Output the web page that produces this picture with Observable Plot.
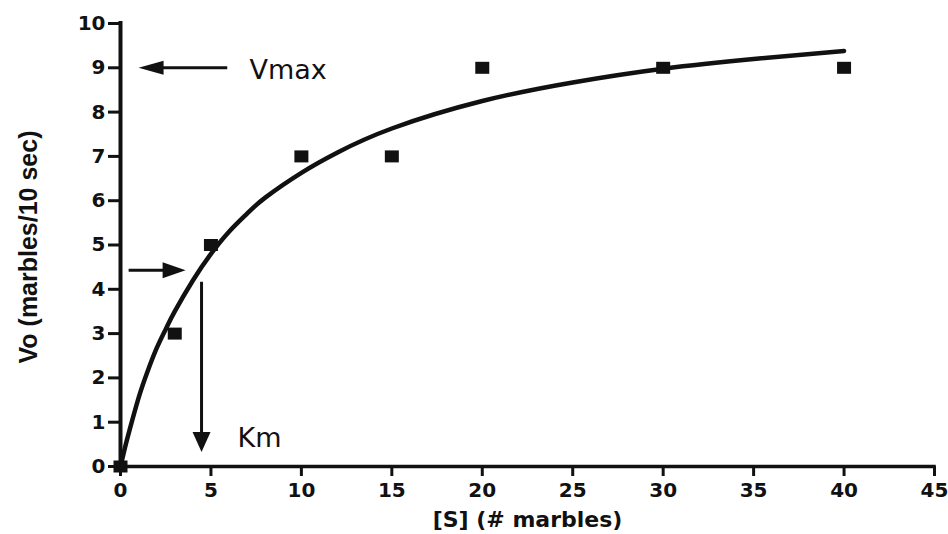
<!DOCTYPE html>
<html>
<head>
<meta charset="utf-8">
<script src="https://cdn.jsdelivr.net/npm/d3@7"></script>
<script src="https://cdn.jsdelivr.net/npm/@observablehq/plot@0.6"></script>
<style>
  html, body { margin: 0; padding: 0; background: #fff; }
</style>
</head>
<body>
<div id="chart"></div>
<script>
// ---- data ----
const substrate = [0, 3, 5, 10, 15, 20, 30, 40];           // [S] (# marbles)
const velocity  = [0, 3, 5, 7, 7, 9, 9, 9];                // Vo (marbles/10 sec)

// fitted curve
const curveS = [0, 0.25, 0.5, 1, 1.5, 2, 2.5, 3, 4, 5, 6, 7, 8, 10, 12, 15, 20, 25, 30, 35, 40];
const curveV = [0, 0.43, 0.82, 1.55, 2.15, 2.67, 3.1, 3.5, 4.2, 4.8, 5.3, 5.71, 6.07, 6.63, 7.09, 7.63, 8.25, 8.67, 8.98, 9.2, 9.38];

const xTicks = [0, 5, 10, 15, 20, 25, 30, 35, 40, 45];
const yTicks = [0, 1, 2, 3, 4, 5, 6, 7, 8, 9, 10];

// annotation arrows: tail -> tip, and head direction
const arrowTailX = [5.9, 0.45, 4.48];
const arrowTailY = [9, 4.43, 4.17];
const arrowTipX  = [1.0, 3.6, 4.48];
const arrowTipY  = [9, 4.43, 0.33];
const arrowDir   = ["left", "right", "down"];

const noteText = ["Vmax", "Km"];
const noteX = [7.13, 6.47];
const noteY = [8.94, 0.64];

const xLabel = "[S] (# marbles)";
const yLabel = "Vo (marbles/10 sec)";

// ---- build tables ----
const points = substrate.map((s, i) => ({s, v: velocity[i]}));
const curve = curveS.map((s, i) => ({s, v: curveV[i]}));

const W = 948, H = 534;
const mL = 120, mR = 14, mT = 23, mB = 68;
const pxX = (W - mL - mR) / 45;
const pxY = (H - mT - mB) / 10;

const heads = {
  left:  {len: 25, half: 7},
  right: {len: 23, half: 8},
  down:  {len: 20, half: 9}
};
const headSymbol = {
  left:  {draw(c) { const h = heads.left;  c.moveTo(0, 0); c.lineTo(h.len, -h.half); c.lineTo(h.len, h.half); c.closePath(); }},
  right: {draw(c) { const h = heads.right; c.moveTo(0, 0); c.lineTo(-h.len, -h.half); c.lineTo(-h.len, h.half); c.closePath(); }},
  down:  {draw(c) { const h = heads.down;  c.moveTo(0, 0); c.lineTo(-h.half, -h.len); c.lineTo(h.half, -h.len); c.closePath(); }}
};

const arrows = arrowDir.map((d, i) => {
  const h = heads[d].len / 2;
  let ex = arrowTipX[i], ey = arrowTipY[i];
  if (d === "left") ex += h / pxX;
  if (d === "right") ex -= h / pxX;
  if (d === "down") ey += h / pxY;
  return {x1: arrowTailX[i], y1: arrowTailY[i], x2: ex, y2: ey, tx: arrowTipX[i], ty: arrowTipY[i], d};
});

const notes = noteText.map((t, i) => ({t, x: noteX[i], y: noteY[i]}));

const markerSym = {draw(c) { c.rect(-7, -6, 14, 12); }};

const ink = "#111";

const plot = Plot.plot({
  width: W,
  height: H,
  marginLeft: mL,
  marginRight: mR,
  marginTop: mT,
  marginBottom: mB,
  style: {fontFamily: "DejaVu Sans", background: "#fff", color: ink, overflow: "visible"},
  x: {domain: [0, 45]},
  y: {domain: [0, 10]},
  marks: [
    Plot.axisX({ticks: xTicks, tickSize: 10, tickPadding: 6, fontSize: 20, fontWeight: "bold", strokeWidth: 3, stroke: ink, fill: ink, label: null}),
    Plot.axisY({ticks: yTicks, tickSize: 12, tickPadding: 3, fontSize: 20, fontWeight: "bold", strokeWidth: 3, stroke: ink, fill: ink, label: null}),
    Plot.ruleY([0], {x1: 0, x2: 45, stroke: ink, strokeWidth: 3.5, strokeLinecap: "square"}),
    Plot.ruleX([0], {y1: 0, y2: 10, stroke: ink, strokeWidth: 4, strokeLinecap: "square"}),
    Plot.line(curve, {x: "s", y: "v", curve: "natural", stroke: ink, strokeWidth: 4.5}),
    Plot.dot(points, {x: "s", y: "v", symbol: markerSym, fill: ink, stroke: "none"}),
    Plot.link(arrows, {x1: "x1", y1: "y1", x2: "x2", y2: "y2", stroke: ink, strokeWidth: 3}),
    ...arrowDir.map(d => Plot.dot(arrows.filter(a => a.d === d), {x: "tx", y: "ty", symbol: headSymbol[d], fill: ink, stroke: "none"})),
    Plot.text(notes, {x: "x", y: "y", text: "t", textAnchor: "start", lineAnchor: "middle", fontSize: 27, fill: ink}),
    Plot.text([xLabel], {frameAnchor: "bottom", textAnchor: "middle", dy: 53, lineAnchor: "middle", fontSize: 22, fontWeight: "bold", fill: ink}),
    Plot.text([yLabel], {frameAnchor: "left", textAnchor: "middle", dx: -92, dy: 2, rotate: -90, lineAnchor: "middle", fontSize: 25, fontWeight: "bold", fontFamily: "Liberation Sans", fill: ink})
  ]
});

document.getElementById("chart").appendChild(plot);
</script>
</body>
</html>
